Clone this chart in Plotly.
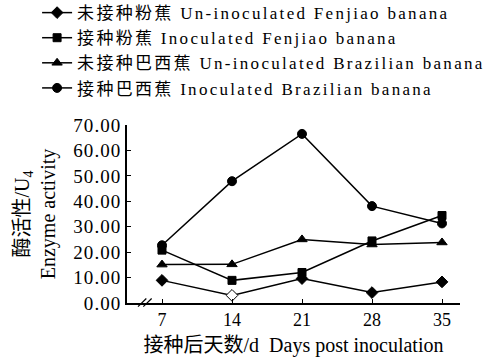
import plotly.graph_objects as go

days = [7, 14, 21, 28, 35]
uninoc_fenjiao = [8.9, 3.0, 9.6, 4.1, 8.3]
inoc_fenjiao = [20.8, 8.9, 12.0, 24.4, 34.4]
uninoc_brazil = [15.1, 15.2, 25.0, 23.0, 23.8]
inoc_brazil = [22.7, 47.9, 66.5, 38.1, 31.3]
y_ticks = [0, 10, 20, 30, 40, 50, 60, 70]
y_tick_labels = ["0.00", "10.00", "20.00", "30.00", "40.00", "50.00", "60.00", "70.00"]
names = [
    "未接种粉蕉 Un-inoculated Fenjiao banana",
    "接种粉蕉 Inoculated Fenjiao banana",
    "未接种巴西蕉 Un-inoculated Brazilian banana",
    "接种巴西蕉 Inoculated Brazilian banana",
]

FONT = "Liberation Serif, Times New Roman, Noto Sans CJK SC, serif"

fig = go.Figure()
series = [
    (uninoc_fenjiao, "diamond", 9, ["black", "white", "black", "black", "black"]),
    (inoc_fenjiao, "square", 8, "black"),
    (uninoc_brazil, "triangle-up", 9, "black"),
    (inoc_brazil, "circle", 9, "black"),
]
for (vals, sym, sz, col), name in zip(series, names):
    fig.add_trace(go.Scatter(
        x=days, y=vals, mode="lines+markers",
        name='<span style="letter-spacing:2.3px">' + name + "</span>",
        line=dict(color="black", width=1.5),
        marker=dict(symbol=sym, size=sz, color=col, line=dict(color="black", width=1)),
    ))

fig.update_layout(
    width=503, height=364,
    margin=dict(l=127, r=43, t=125, b=61, autoexpand=False),
    paper_bgcolor="white", plot_bgcolor="white",
    font=dict(family=FONT, size=16, color="black"),
    showlegend=True,
    legend=dict(
        x=-0.27, y=1.73, xanchor="left", yanchor="top",
        font=dict(size=17), itemwidth=30, tracegroupgap=0, bgcolor="rgba(0,0,0,0)",
    ),
    xaxis=dict(
        range=[3.5, 36.8], tickvals=days, ticktext=[str(d) for d in days],
        showline=True, linecolor="black", linewidth=1.5, ticks="inside", ticklen=4,
        tickcolor="black", showgrid=False, zeroline=False, automargin=False,
        tickfont=dict(size=18),
        title=dict(text="接种后天数/d  Days post inoculation", font=dict(size=20), standoff=9),
    ),
    yaxis=dict(
        range=[0, 70], tickvals=y_ticks,
        ticktext=['<span style="letter-spacing:1.1px">' + t + "</span>" for t in y_tick_labels],
        showline=True, linecolor="black", linewidth=1.5, ticks="inside", ticklen=4,
        tickcolor="black", showgrid=False, zeroline=False, automargin=False,
        tickfont=dict(size=19),
        title=dict(text="酶活性/U<sub>4</sub><br>Enzyme activity", font=dict(size=20), standoff=12),
    ),
)

# axis break marks
for dx in (0.0, 0.016):
    fig.add_shape(type="line", xref="paper", yref="paper",
                  x0=0.033 + dx, y0=-0.02, x1=0.058 + dx, y1=0.025,
                  line=dict(color="black", width=1.2))

fig.write_html("out.html", config={"displayModeBar": False},
               post_script="document.body.style.margin='0';")
